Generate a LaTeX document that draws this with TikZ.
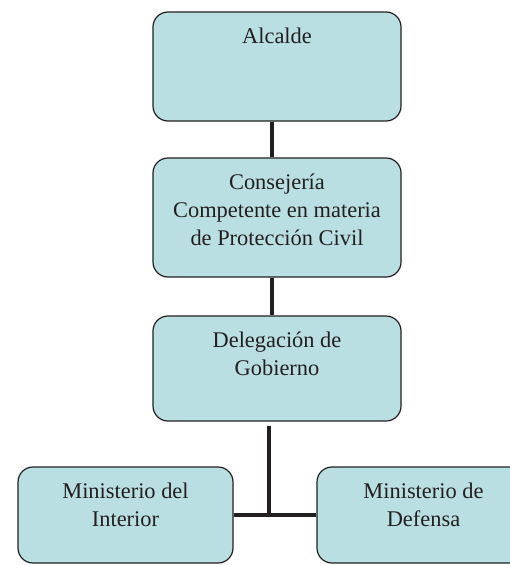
\documentclass[tikz,border=0pt]{standalone}
\usepackage{fontspec}
\setmainfont{Liberation Serif}
\definecolor{boxfill}{RGB}{185,223,226}
\definecolor{ink}{RGB}{35,31,32}
\tikzset{
  orgbox/.style={draw=ink, line width=1.2pt, fill=boxfill, rounded corners=15pt, inner sep=0pt},
  orglabel/.style={anchor=north, inner sep=0pt, align=center, text=ink, font=\fontsize{22.4}{28}\selectfont},
  link/.style={draw=ink, line width=4pt}
}
\begin{document}
\begin{tikzpicture}[x=1pt,y=-1pt]
\useasboundingbox (0,0) rectangle (510,565);
\clip (0,0) rectangle (510,565);
\fill[white] (0,0) rectangle (510,565);
\coordinate (c1) at (272,0);
\coordinate (j) at (269,515);
% connectors first (behind boxes)
\node[orgbox, minimum width=248pt, minimum height=109pt] (alc) at (277,66.5) {};
\node[orgbox, minimum width=248pt, minimum height=119pt] (con) at (277,217.5) {};
\node[orgbox, minimum width=248pt, minimum height=105pt] (del) at (277,368.5) {};
\node[orgbox, minimum width=215pt, minimum height=96pt] (int) at (125.5,515) {};
\node[orgbox, minimum width=213pt, minimum height=96pt] (def) at (423.5,515) {};
\draw[link] (alc.south -| c1) -- (con.north -| c1);
\draw[link] (con.south -| c1) -- (del.north -| c1);
\draw[link] ([yshift=-4pt]del.south -| j) -- (j);
\draw[link] (int.east) -- (def.west);
\node[orglabel] (talc) at ([yshift=-12.4pt]alc.north) {\strut Alcalde};
\node[orglabel] (tcon) at ([yshift=-12.4pt]con.north) {\strut Consejería\\\strut Competente en materia\\\strut de Protección Civil};
\node[orglabel] (tdel) at ([yshift=-12.4pt]del.north) {\strut Delegación de\\\strut Gobierno};
\node[orglabel] (tint) at ([yshift=-12.4pt]int.north) {\strut Ministerio del\\\strut Interior};
\node[orglabel] (tdef) at ([yshift=-12.4pt]def.north) {\strut Ministerio de\\\strut Defensa};
\end{tikzpicture}
\end{document}
